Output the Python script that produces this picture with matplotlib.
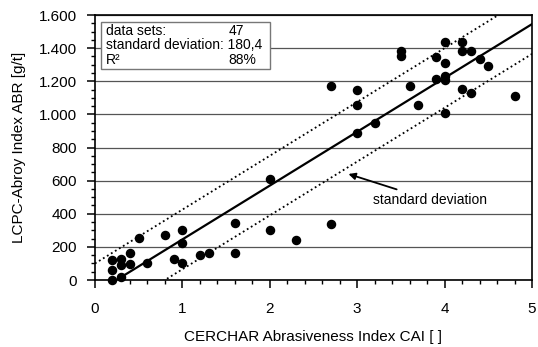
import matplotlib
matplotlib.use("Agg")
import matplotlib.pyplot as plt
from matplotlib.patches import Rectangle
from matplotlib.ticker import MultipleLocator, FuncFormatter
import numpy as np

plt.rcParams['font.family'] = ['Liberation Sans', 'DejaVu Sans']

# CAI / ABR pairs
cai = [0.2, 0.2, 0.2, 0.3, 0.3, 0.3, 0.4, 0.4, 0.5, 0.6,
       0.8, 0.9, 1.0, 1.0, 1.0, 1.2, 1.3, 1.6, 1.6, 2.0,
       2.0, 2.3, 2.7, 2.7, 3.0, 3.0, 3.0, 3.2, 3.5, 3.5,
       3.6, 3.7, 3.9, 3.9, 4.0, 4.0, 4.0, 4.0, 4.0, 4.2,
       4.2, 4.2, 4.3, 4.3, 4.4, 4.5, 4.8]
abr = [0, 60, 120, 20, 90, 125, 95, 165, 255, 105,
       270, 125, 105, 225, 300, 150, 165, 165, 345, 300,
       610, 240, 340, 1170, 890, 1055, 1150, 950, 1350, 1380,
       1170, 1055, 1215, 1345, 1010, 1205, 1230, 1310, 1435, 1155,
       1385, 1435, 1130, 1385, 1335, 1290, 1110]

# regression line and standard deviation band
slope = 325.0
intercept = -80.0
std_dev = 180.0

fig = plt.figure(figsize=(5.38, 3.47), dpi=100)
ax = fig.add_axes([95 / 538, 1 - 280 / 347, 437 / 538, 265 / 347])

xs = np.array([0.0, 5.0])
ax.plot(xs, slope * xs + intercept, color='black', lw=1.6, zorder=3)
ax.plot(xs, slope * xs + intercept + std_dev, color='black', lw=1.3,
        ls=(0, (1, 1.6)), zorder=3)
ax.plot(xs, slope * xs + intercept - std_dev, color='black', lw=1.3,
        ls=(0, (1, 1.6)), zorder=3)

ax.scatter(cai, abr, s=34, color='black', zorder=4, clip_on=False)

ax.set_xlim(0, 5)
ax.set_ylim(0, 1600)
ax.xaxis.set_major_locator(MultipleLocator(1))
ax.xaxis.set_minor_locator(MultipleLocator(0.2))
ax.yaxis.set_major_locator(MultipleLocator(200))
ax.yaxis.set_minor_locator(MultipleLocator(50))
ax.yaxis.set_major_formatter(FuncFormatter(lambda v, p: f"{int(v):,}".replace(',', '.')))

ax.grid(axis='y', which='major', color='#555555', lw=0.9)
ax.set_axisbelow(True)
for s in ax.spines.values():
    s.set_linewidth(1.2)
ax.tick_params(which='major', length=6, width=1.1, labelsize=11, direction='out')
ax.tick_params(which='minor', length=3, width=1.0, direction='out')
ax.tick_params(axis='x', which='major', pad=10)
ax.tick_params(axis='y', which='major', pad=7)

ax.set_xlabel('CERCHAR Abrasiveness Index CAI [ ]', fontsize=11, labelpad=10)
ax.set_ylabel('LCPC-Abroy Index ABR [g/t]', fontsize=11, labelpad=9)

# info box
ax.add_patch(Rectangle((0.013, 0.797), 0.387, 0.176, transform=ax.transAxes,
                       facecolor='white', edgecolor='#777777', lw=1.0, zorder=5))
rows = [('data sets:', '47', 0.941), ('standard deviation: 180,4', '', 0.887), ('R²', '88%', 0.831)]
for left, right, yy in rows:
    ax.text(0.025, yy, left, transform=ax.transAxes, fontsize=10, va='center', zorder=6)
    if right:
        ax.text(0.305, yy, right, transform=ax.transAxes, fontsize=10, va='center', zorder=6)

ax.annotate('standard deviation', xy=(2.9, 640), xytext=(3.18, 483),
            fontsize=10, va='center', ha='left',
            arrowprops=dict(arrowstyle='-|>', color='black', lw=1.3,
                            shrinkA=2, shrinkB=0, mutation_scale=10))

fig.savefig('out.png', dpi=100)
